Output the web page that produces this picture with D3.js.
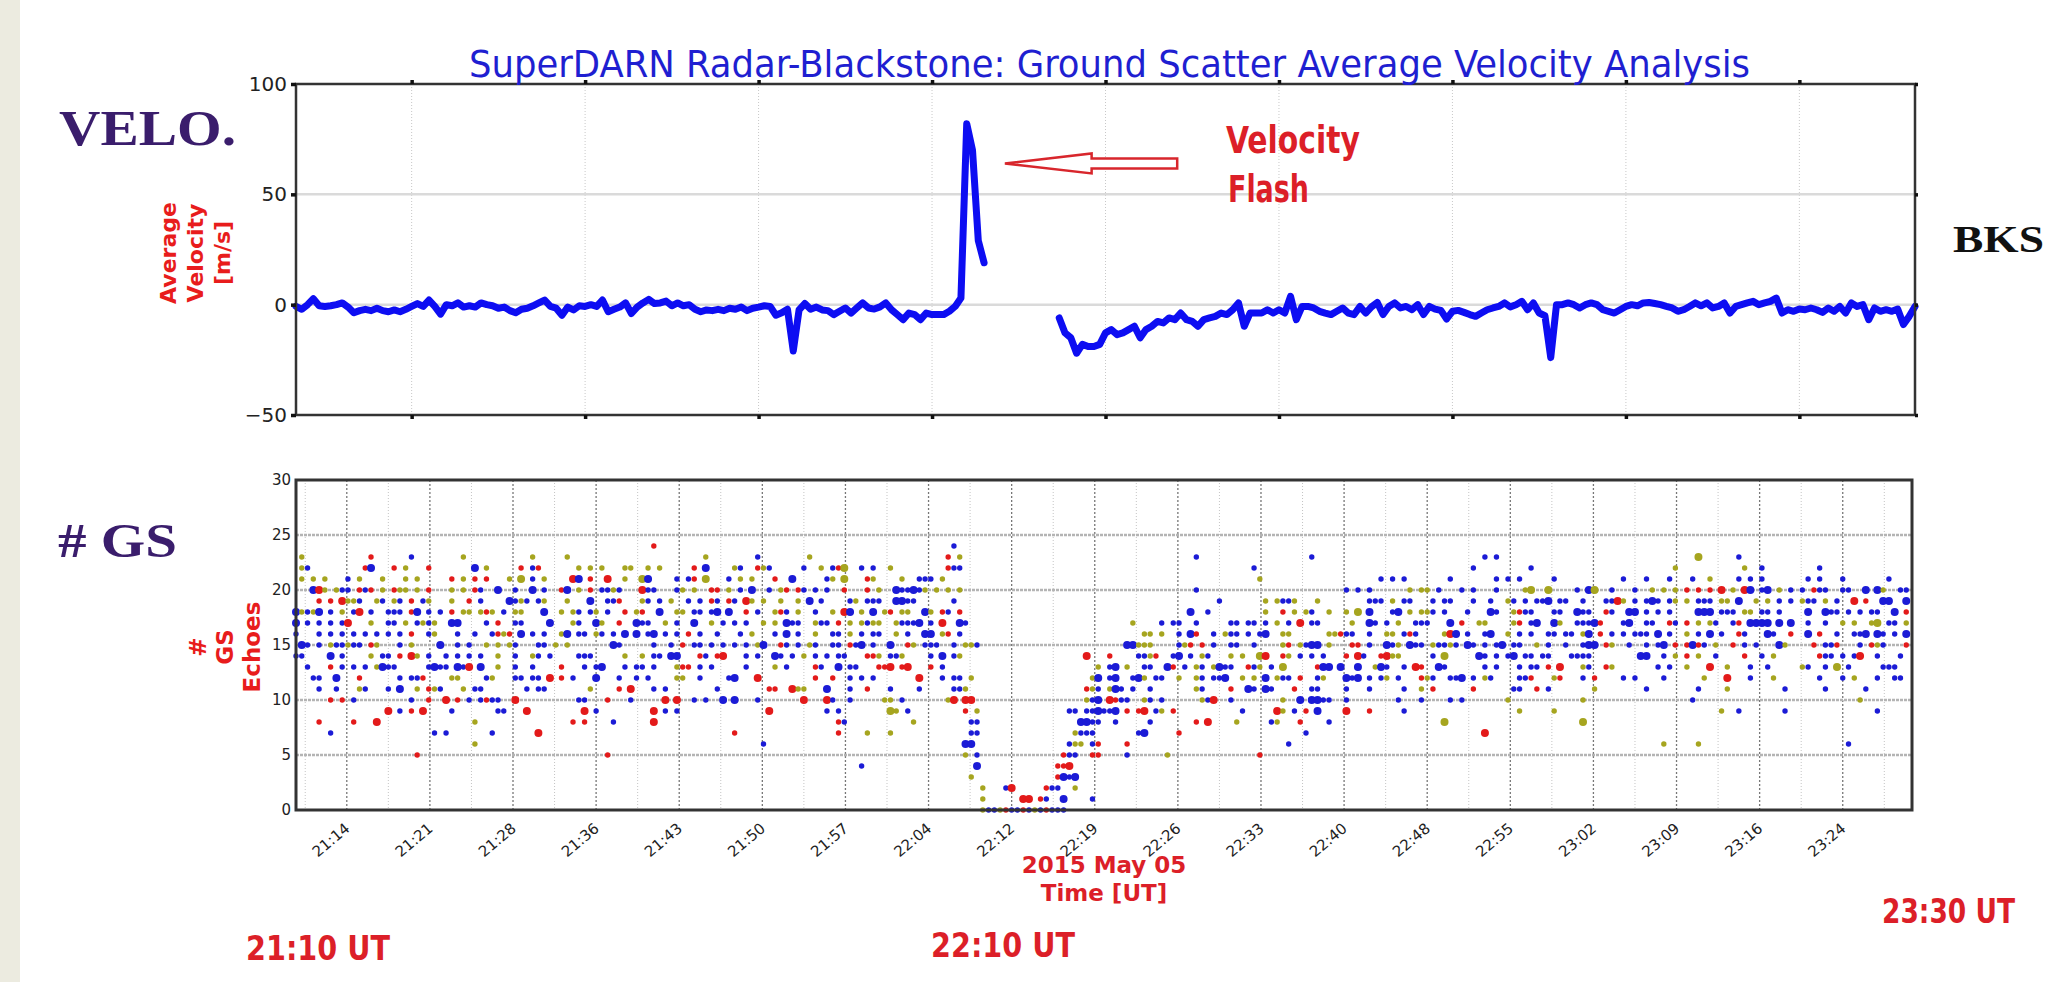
<!DOCTYPE html>
<html>
<head>
<meta charset="utf-8">
<script src="https://cdn.jsdelivr.net/npm/d3@7"></script>
<style>
  body { margin: 0; background: #fff; }
  svg { display: block; }
</style>
</head>
<body>
<svg id="chart" width="2056" height="982"></svg>
<script>
// ---- data ----------------------------------------------------------------
// average ground scatter velocity, one value every half minute from 21:10 UT (null = no data)
const velStep = 0.5;
const velocity = [
  -0.8, -2.1, 0, 2.7, -0.5, -0.8, -0.5, 0, 0.8, -1.1, -3.7, -2.7, -2.1, -2.7, -1.6, -2.7, -3.2, -2.4, -3.2, -2.1,
  -0.8, 0.5, -0.8, 2.1, -0.8, -4.3, 0, -0.5, 0.8, -1.1, -0.5, -1.1, 0.8, 0, -0.5, -1.6, -1.1, -2.7, -3.7, -2.1,
  -1.6, -0.5, 0.8, 2.1, -0.8, -1.6, -4.8, -1.1, -2.4, -0.5, -0.8, 0, -0.8, 2.1, -3.2, -2.1, -1.1, 0.8, -4.0, -1.1,
  0.8, 2.4, 0.5, 0.8, 1.6, -0.5, 0.8, -0.5, 0, -2.1, -3.2, -2.4, -2.7, -2.1, -2.7, -1.6, -2.1, -1.1, -2.7, -1.6,
  -1.1, -0.5, -0.8, -4.8, -3.7, -2.1, -21, -2.4, 0.5, -2.1, -1.1, -2.4, -2.7, -4.5, -3, -1.5, -3.8, -1.5, 0.8, -1.5,
  -2, -1, 0.8, -2.3, -4.5, -6.8, -3.8, -4.5, -6.8, -3.8, -4.5, -4.5, -4.5, -3, -0.8, 3, 82, 70, 29, 19,
  null, null, null, null, null, null, null, null, null, null, null, null, -6, -12.8, -15, -22, -18, -19, -19, -18,
  -12.8, -11.3, -13.6, -12.8, -11.3, -9.8, -15, -11.3, -9.8, -7.6, -8.3, -6, -6.8, -3.8, -6.8, -7.6, -9.8, -6.8, -6, -5.3,
  -3.8, -4.5, -2.3, 0.8, -9.8, -3.8, -3.8, -3.8, -2.3, -3.8, -2.3, -3.8, 3.8, -6.8, -0.8, -0.8, -1.5, -3, -3.8, -4.5,
  -3, -1.5, -3.8, -4.5, -0.8, -3.8, -1, 1, -4.5, -0.8, 0.8, -1.5, -0.8, -2.3, 0, -4.5, -0.8, -2, -2.6, -6.5,
  -3, -2.6, -3.5, -4.5, -5.3, -3.8, -2.3, -1.5, -0.8, 0.8, -1, 0, 1.5, -2.3, 0.8, -3.8, -5, -24, 0, 0,
  0.8, 0, -1.5, 0, 0.8, 0, -2.3, -3, -3.8, -2.3, -0.8, 0, -0.5, 0.8, 1, 0.5, 0, -0.8, -1.5, -3,
  -2.3, -0.8, 0.8, -0.5, 0.8, -1.5, -0.8, 0.8, -3.8, -0.8, 0, 0.8, 1.5, 0, 0.8, 1.5, 3, -3.8, -2.3, -3,
  -2, -2.3, -1.5, -2.3, -3.5, -1.5, -3, -0.8, -3.8, 0.8, -0.8, 0, -6.8, -1.5, -3, -2.3, -3, -2, -9, -5.3,
  -0.8
];

const velTicks = [100, 50, 0, -50];
const velGridMinutes = [10, 25, 40, 55, 70, 85, 100, 115, 130];   // 21:20 ... 23:20

const gsTicks = [0, 5, 10, 15, 20, 25, 30];
const timeTickMinutes = [4.4, 11.6, 18.8, 26, 33.2, 40.4, 47.6, 54.8, 62, 69.2, 76.4,
                         83.6, 90.8, 98, 105.2, 112.4, 119.6, 126.8, 134];
const timeTickLabels = ["21:14", "21:21", "21:28", "21:36", "21:43", "21:50", "21:57", "22:04", "22:12", "22:19",
                        "22:26", "22:33", "22:40", "22:48", "22:55", "23:02", "23:09", "23:16", "23:24"];
const minorTickMinutes = [0.8, 8, 15.2, 22.4, 29.6, 36.8, 44, 51.2, 58.4, 65.6, 72.8,
                          80, 87.2, 94.4, 101.6, 108.8, 116, 123.2, 130.4, 137.6];

// # GS echoes: one string per echo count (index = count), 14 blocks of 10 minutes,
// 20 half-minute slots per block. b/r/y = blue/red/olive dot, capital = large dot.
const gsRows = [
  ". . . . . ...................y bbyrbbrbybrbbb . . . . . . .",
  ". . . . . ...................y ......RR.rb..B....b. . . . . . . .",
  ". . . . . ...................y ...bR.....rbb..y . . . . . . .",
  ". . . . . .................y ............rBbB . . . . . . .",
  ". . . . ..................b. ..................B. ............rrR . . . . . . .",
  ". .r ..............r . . ................y.b. .............rbb..rr ....b......y .......r . . . . .",
  ". ...........y . . .b ................BB ..............byy.br ....r ............b . . .................y ...y .........b",
  "......b ....b.b.......b ..R ................r ..............r....y ...y.............bb. ...............ybbb. ......bB.....r ...............b . ......R . . .",
  "....r.....r...R..... ...........y ........r.r....b ..R ..............rb .......y.........bb. ................BBbb ..b.....b.......r.R. ...y.....by...r....b ...................Y . ...Y . .",
  "................R.b. r.R....b.......bb... R.........R.b ..R.b.b ..R.........b.b ...Yy.b.........r.y. ..............bb.bbB bbB.r.rR.by.r ....b.....Ry.b.r.B.. ..R...r.....b ............y.....y. . .......y..b.......b. ..............b",
  "......r.r.b b..r..R.r.b.brbb..R. .........bb...r...b. ....R.R..b.b..B.B b.......R...Rb..b ..yy.b.......yR.RR .................ybB .Rrbb..yb.b......ybR ..b........y..B.BBbb ..b........b...b b.b.......y ...y ..b ...........y",
  "....b..b...yb...b.B. .y.ryb...y.bb b.bb.......y....r.R. ..b.b........b ..rr..Ryy...B...b..r ...b....b.....bby .................ryb .yBb.b..b.......yb ..r..Bb.Bb...r..bb ..b...b.....b..y.r ....r......bb..r.b .....y........b ...b....y.........b. .....b......b",
  "...bb..B...r......b. bbr....yy....by...bb .bb.R.r.b...B...b..b .b....yy..b....bB R.........r..r..b.b. b.......R...b.bb.y ..................yB .bB..bBy.bb..y..yb.b bB..y.y.B.ybb.r..by. ..BbB.b.by.b...ryb bbB.b.yb....bbr...yr ...b.r....b.b....b ....y...R...b...y ....b...b.y...b..bb.",
  "..b...r.b.b.b.yBbb.. ...bBbb.BbR.B..y..b. .b....r...b.bB...b.b b.b...yrr.b.b.....b. ...y.b....rb..B.bb .rrR.rR...r.b ...................y .bB.y..bb..Br.b.yb.y Bbb..rby.b.Y.....rBB .B..B..yBb..b.Rr..Bb ......b.b...b.bb.r.R ...yb..ry.......b.b. .y...R..y...b..b .yb..b.Y.b.....bbb",
  "bb....B.b....y.bb.r. Ry.b..b.b.b.b..y..b. .yb.b....bbb.....y.. y.bb.BB...rb.rR...b. b..Bb.b.y.b.b.bb...r ry.bby....b.B.by .................R .r....bbyr..bB.b.yb. ..y.y..YR..ry.b.b.b. ..r.Rb..rRyy.....b.Y .....Bb.b.bB.bb.bb .bbbb........BB..b.y .r.y..b....r..b.y ....rbb.b.bR..b...b.",
  ".Bb.b.ybbybb.ry...b. y....B..b.b..y.y.yb. ..bb.y.y.......Bb ..b..b.r.bb.b.b.b.b. yB..rb.b.yb..bb.rbB. b..B..ry.bbb..b.yyb . ....BByyy....byr.r.b ..bb..b....yr.ybBB.y ...rr.b..Bby.Bbb.ybb yb.Bb.b.bB.bb..y.b b..bBB.ry..b..b.bB.r .rBrb.y..r.b.b...By. ...r.bbr...b.ryb...r",
  "b...b.b.b.b.b.b.b.b. r..by...b..b..bryr.B .b.b..yB.bb.yb.b.B.B .bB.b.b.r.b..b...b.y ...b.B.b..y..bb.y.b. bb..y.b..BB.yr.b . .......yy.y..b.Br..b .ybb.b.bB..yy......y yrbb..b..yy.brb....y RB.b..bB..y.b.b..bb. bb.yB.r.b.b.bbb.B.b. .y.b.B.b..rb...Bb..r ..B.r..b..bbB.Bb.b.B",
  "B.b.b.b.bR...y..bb.y .byby..BB....b.r..bb ....B...yb..By..r..B bb..y.b..B..y.b.b.b. .y.y.Bbb..ybb.r.y.yb yy..ybbbB.b.R..Bb . .....y....b.bb..b ..bb.bb.b.y.b.R.bb ...y..Bb.b.y..bbb B.r..yy....yr.bB..By ..bbbBr...bB..bb..rb .r.y.yb..br.BBBB.B.B ..b..b..y.y..yY.bb.y",
  "BybyB.b.y.bR.b..bbb. rB.b.b.r.yy.yry.b.yy ...B..y.yb.by.b..r.y r..B..yy.bb.bB.B..r. b..yrb.y..b..y.RB.y. B.yr.yy..By.rb.r . ...............B..b. ........y..r.y.yb..y ..y.Y.B...bB.y.yyb.b ...b...Bb..yrbb...bb ..Bbb..rb..BB.b.b.b. ...BBB.bbb.yy.bb.b ..B..Bbb.b.b.bb..B.r",
  "....r.r.Ryyb..yb.yb. r.by...y..r.b....Bby b.by...y...B..bbr yb.b.y..b.b.rb.rb.Ry .y..y..y.B.b....by.b bb..BBbb......b . . b.......y.ybby...y ......bbb.y.bb...b.b b...b..b..yb.b.bbB.b b..b...bbRy.b.bBb.by .y.bbb.yy.B..y.y.b.b .ybb.y.b..R.r..BB..B",
  "...BRy.ybb.rbr.y.ryy .y.r...y.y.rb..B..b. .B.b..rB.y.r.bbyb Rbb...by.y..rr.y.b.B ..b.yr.rb.b.b..r...r .y..BbbBby.y.y.y . ................b . ..b.b.b......y.yy.b. ..b.b...b....yY..Y ..b.BY..b...b..y.y.y .r.r.r.R.y.RB.bB.y.b .b.rbb..bb..B.By..bb",
  ".y.y.y...b.y...y...y .y.....r.y.r.r...y.Y .b.y....RB.r..R..y YB....b.br.Y...b.y.y ...r..B.....by.Y...r y....y..bbb.y . . .......y ........b.b.b b.......b.b.b.....b ..........b...b...b ..b..y....b.b.b ..b.b...b.......b",
  ".yb.........rB...r.y ...r.......B.y.....r .br......y.y.y...yy .y.y.....r.B....yb ryb.....b..y.brY..b b..y.........rbb . . ......b . ....b.........b ...................y ...........y..b ....b",
  ".y...........r b........y .y.....y ...........y b........y .............r.y . ................b ................b . ......b.b . ...Y......b .",
  ". . . ..r . ..............b . . . . . . . ."
];
const gsColors = { b: "#1b1bd6", r: "#e31a1a", y: "#a6a51f" };

// ---- layout ----------------------------------------------------------------
const svg = d3.select("#chart");
const fontSans = "'DejaVu Sans', sans-serif";
const fontCond = "'DejaVu Sans Condensed', 'Liberation Sans Narrow', 'DejaVu Sans', sans-serif";
const fontSerif = "'Liberation Serif', 'DejaVu Serif', serif";
const red = "#dc1f28";

svg.append("rect").attr("width", 2056).attr("height", 982).attr("fill", "#fff");
svg.append("rect").attr("width", 20).attr("height", 982).attr("fill", "#ecebe0");

// ---- top panel : average velocity -----------------------------------------
const xTop = d3.scaleLinear().domain([0, 140]).range([296, 1915]);
const yTop = d3.scaleLinear().domain([-50, 100]).range([415, 84]);
const topG = svg.append("g");

topG.selectAll("line.vgrid").data(velGridMinutes).enter().append("line")
  .attr("x1", d => xTop(d)).attr("x2", d => xTop(d))
  .attr("y1", yTop(100)).attr("y2", yTop(-50))
  .attr("stroke", "#c8c8c8").attr("stroke-width", 1).attr("stroke-dasharray", "1,2");
topG.selectAll("line.hgrid").data([50, 0]).enter().append("line")
  .attr("x1", xTop(0)).attr("x2", xTop(140))
  .attr("y1", d => yTop(d)).attr("y2", d => yTop(d))
  .attr("stroke", "#dadada").attr("stroke-width", 2.5);

const line = d3.line()
  .defined(d => d.v !== null)
  .x(d => xTop(d.m)).y(d => yTop(d.v));
topG.append("path")
  .datum(velocity.map((v, i) => ({ m: i * velStep, v: v })))
  .attr("d", line)
  .attr("fill", "none").attr("stroke", "#0d0df2").attr("stroke-width", 7)
  .attr("stroke-linejoin", "round").attr("stroke-linecap", "round");

topG.append("rect")
  .attr("x", xTop(0)).attr("y", yTop(100))
  .attr("width", xTop(140) - xTop(0)).attr("height", yTop(-50) - yTop(100))
  .attr("fill", "none").attr("stroke", "#333").attr("stroke-width", 2.5);

const yAxisTop = topG.append("g").attr("transform", `translate(${xTop(0)},0)`)
  .call(d3.axisLeft(yTop).tickValues(velTicks).tickSize(5).tickPadding(4)
    .tickFormat(d => d < 0 ? "\u2212" + Math.abs(d) : d));
yAxisTop.select(".domain").remove();
yAxisTop.selectAll("line").attr("stroke", "#111").attr("stroke-width", 3.5);
yAxisTop.selectAll("text").attr("font-family", fontSans).attr("font-size", 20).attr("fill", "#222");

const yAxisTopR = topG.append("g").attr("transform", `translate(${xTop(140)},0)`)
  .call(d3.axisRight(yTop).tickValues(velTicks).tickSize(3).tickFormat(""));
yAxisTopR.select(".domain").remove();
yAxisTopR.selectAll("line").attr("stroke", "#111").attr("stroke-width", 3.5);

[[d3.axisTop, yTop(100)], [d3.axisBottom, yTop(-50)]].forEach(([axisFn, y]) => {
  const g = topG.append("g").attr("transform", `translate(0,${y})`)
    .call(axisFn(xTop).tickValues(velGridMinutes).tickSize(4).tickFormat(""));
  g.select(".domain").remove();
  g.selectAll("line").attr("stroke", "#111").attr("stroke-width", 3.5);
});

// y label
const yLabTop = topG.append("g").attr("transform", "translate(195,253) rotate(-90)")
  .attr("font-family", fontSans).attr("font-weight", "bold").attr("font-size", 22)
  .attr("fill", "#e81c1c").attr("text-anchor", "middle");
["Average", "Velocity", "[m/s]"].forEach((t, i) =>
  yLabTop.append("text").attr("x", 0).attr("y", (i - 1) * 27 + 8).text(t));

// title
svg.append("text").attr("x", 469).attr("y", 77)
  .attr("font-family", fontCond).attr("font-size", 38).attr("fill", "#1f1fd1")
  .attr("textLength", 1281).attr("lengthAdjust", "spacingAndGlyphs")
  .text("SuperDARN Radar-Blackstone: Ground Scatter Average Velocity Analysis");

// "Velocity Flash" annotation arrow
const tip = [61.3, 64], headBase = 68.8, tail = 76.2;
const ty = yTop(tip[1]);
const arrowPts = [
  [xTop(tip[0]), ty],
  [xTop(headBase), ty - 10], [xTop(headBase), ty - 5],
  [xTop(tail), ty - 5], [xTop(tail), ty + 5],
  [xTop(headBase), ty + 5], [xTop(headBase), ty + 10]
];
svg.append("polygon").attr("points", arrowPts.map(p => p.join(",")).join(" "))
  .attr("fill", "#fff").attr("stroke", "#d8262c").attr("stroke-width", 2.5)
  .attr("stroke-linejoin", "miter");
svg.append("text").attr("x", 1226).attr("y", 153)
  .attr("font-family", fontCond).attr("font-weight", "bold").attr("font-size", 37).attr("fill", red)
  .attr("textLength", 134).attr("lengthAdjust", "spacingAndGlyphs").text("Velocity");
svg.append("text").attr("x", 1228).attr("y", 202)
  .attr("font-family", fontCond).attr("font-weight", "bold").attr("font-size", 37).attr("fill", red)
  .attr("textLength", 81).attr("lengthAdjust", "spacingAndGlyphs").text("Flash");

// ---- bottom panel : # GS echoes --------------------------------------------
const xBot = d3.scaleLinear().domain([0, 140]).range([296, 1912]);
const yBot = d3.scaleLinear().domain([0, 30]).range([810, 480]);
const botG = svg.append("g");

botG.selectAll("line.minor").data(minorTickMinutes).enter().append("line")
  .attr("x1", d => xBot(d)).attr("x2", d => xBot(d))
  .attr("y1", yBot(30)).attr("y2", yBot(0))
  .attr("stroke", "#c4c4c4").attr("stroke-width", 1).attr("stroke-dasharray", "1,2");
botG.selectAll("line.major").data(timeTickMinutes).enter().append("line")
  .attr("x1", d => xBot(d)).attr("x2", d => xBot(d))
  .attr("y1", yBot(30)).attr("y2", yBot(0))
  .attr("stroke", "#777").attr("stroke-width", 1.3).attr("stroke-dasharray", "2,2");
botG.selectAll("line.hgrid").data([5, 10, 15, 20, 25]).enter().append("line")
  .attr("x1", xBot(0)).attr("x2", xBot(140))
  .attr("y1", d => yBot(d)).attr("y2", d => yBot(d))
  .attr("stroke", "#b4b4b4").attr("stroke-width", 2.5).attr("stroke-dasharray", "3,1");

// scatter points
const points = [];
gsRows.forEach((row, count) => {
  const slots = row.split(" ").map(b => b.padEnd(20, ".").slice(0, 20)).join("");
  for (let j = 0; j < slots.length; j++) {
    const c = slots[j];
    if (c === ".") continue;
    points.push({ m: j * 0.5, n: count, col: gsColors[c.toLowerCase()], big: c !== c.toLowerCase() });
  }
});
botG.selectAll("circle.gs").data(points).enter().append("circle")
  .attr("cx", d => xBot(d.m)).attr("cy", d => yBot(d.n))
  .attr("r", d => d.big ? 4 : 2.7)
  .attr("fill", d => d.col);

botG.append("rect")
  .attr("x", xBot(0)).attr("y", yBot(30))
  .attr("width", xBot(140) - xBot(0)).attr("height", yBot(0) - yBot(30))
  .attr("fill", "none").attr("stroke", "#333").attr("stroke-width", 3);

const yAxisBot = botG.append("g").attr("transform", `translate(${xBot(0)},0)`)
  .call(d3.axisLeft(yBot).tickValues(gsTicks).tickSize(0).tickPadding(5));
yAxisBot.select(".domain").remove();
yAxisBot.selectAll("text").attr("font-family", fontSans).attr("font-size", 15).attr("fill", "#222");

botG.selectAll("text.xt").data(timeTickMinutes).enter().append("text")
  .attr("transform", d => `translate(${xBot(d) + 4},830) rotate(-40)`)
  .attr("text-anchor", "end")
  .attr("font-family", fontSans).attr("font-size", 15).attr("fill", "#222")
  .text((d, i) => timeTickLabels[i]);

const yLabBot = botG.append("g").attr("transform", "translate(225,647) rotate(-90)")
  .attr("font-family", fontSans).attr("font-weight", "bold").attr("font-size", 23)
  .attr("fill", "#e81c1c").attr("text-anchor", "middle");
["#", "GS", "Echoes"].forEach((t, i) =>
  yLabBot.append("text").attr("x", 0).attr("y", (i - 1) * 27 + 8).text(t));

const xLab = svg.append("g").attr("font-family", fontSans).attr("font-weight", "bold")
  .attr("font-size", 23).attr("fill", red).attr("text-anchor", "middle");
xLab.append("text").attr("x", 1104).attr("y", 873).text("2015 May 05");
xLab.append("text").attr("x", 1104).attr("y", 901).text("Time [UT]");

// ---- slide annotations -----------------------------------------------------
const serif = svg.append("g").attr("font-family", fontSerif).attr("font-weight", "bold");
serif.append("text").attr("x", 59).attr("y", 145).attr("font-size", 50).attr("fill", "#3a1d6c")
  .attr("textLength", 177).attr("lengthAdjust", "spacingAndGlyphs").text("VELO.");
serif.append("text").attr("x", 58).attr("y", 557).attr("font-size", 48).attr("fill", "#3a1d6c")
  .attr("textLength", 119).attr("lengthAdjust", "spacingAndGlyphs").text("# GS");
serif.append("text").attr("x", 1953).attr("y", 252).attr("font-size", 37).attr("fill", "#111")
  .attr("textLength", 91).attr("lengthAdjust", "spacingAndGlyphs").text("BKS");

const utLabels = [["21:10 UT", 246, 960, 144], ["22:10 UT", 931, 957, 144], ["23:30 UT", 1882, 923, 133]];
svg.selectAll("text.ut").data(utLabels).enter().append("text")
  .attr("x", d => d[1]).attr("y", d => d[2])
  .attr("font-family", fontCond).attr("font-weight", "bold").attr("font-size", 34).attr("fill", red)
  .attr("textLength", d => d[3]).attr("lengthAdjust", "spacingAndGlyphs")
  .text(d => d[0]);
</script>
</body>
</html>
